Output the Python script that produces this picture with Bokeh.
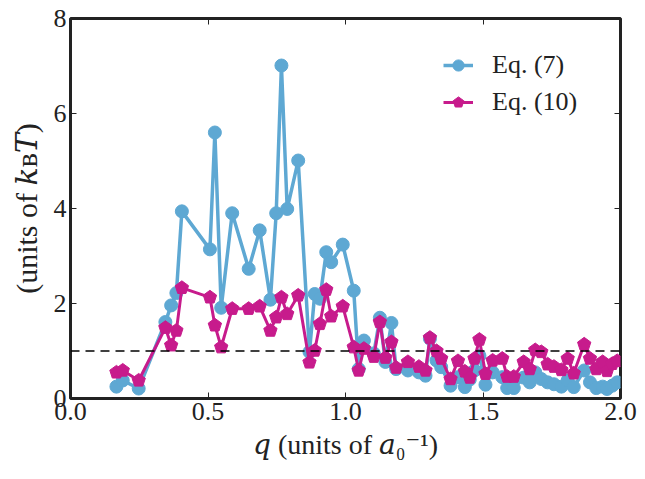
import numpy as np
from bokeh.plotting import figure
from bokeh.models import (Range1d, Span, LinearAxis, FixedTicker, Legend,
                          LegendItem, ColumnDataSource)
from bokeh.embed import file_html
from bokeh.resources import INLINE

# ---- data ----
q = [0.167, 0.19, 0.248, 0.345, 0.366, 0.385, 0.405, 0.507, 0.525, 0.548,
     0.588, 0.648, 0.688, 0.727, 0.748, 0.767, 0.788, 0.828, 0.869, 0.888,
     0.907, 0.93, 0.948, 0.99, 1.03, 1.048, 1.067, 1.103, 1.125, 1.145,
     1.167, 1.184, 1.227, 1.267, 1.291, 1.307, 1.331, 1.348, 1.382, 1.409,
     1.434, 1.452, 1.469, 1.487, 1.509, 1.535, 1.57, 1.588, 1.612, 1.648,
     1.67, 1.69, 1.712, 1.735, 1.758, 1.785, 1.808, 1.83, 1.868, 1.889,
     1.912, 1.935, 1.951, 1.97, 1.988]
eq7 = [0.25, 0.38, 0.21, 1.61, 1.96, 2.22, 3.94, 3.14, 5.6, 1.91,
       3.9, 2.73, 3.54, 2.08, 3.9, 7.01, 3.99, 5.01, 0.98, 2.2,
       2.1, 3.08, 2.87, 3.24, 2.27, 0.62, 1.22, 0.95, 1.7, 0.77,
       1.59, 0.62, 0.59, 0.55, 0.48, 1.26, 0.8, 0.66, 0.27, 0.45,
       0.24, 0.4, 0.59, 0.9, 0.29, 0.55, 0.45, 0.22, 0.22, 0.44,
       0.34, 0.55, 0.41, 0.34, 0.3, 0.25, 0.38, 0.24, 0.59, 0.34,
       0.22, 0.25, 0.2, 0.27, 0.34]
eq10 = [0.55, 0.59, 0.38, 1.49, 1.12, 1.43, 2.33, 2.13, 1.54, 1.08,
        1.89, 1.89, 1.94, 1.43, 1.71, 2.13, 1.78, 2.17, 0.76, 1.01,
        1.57, 2.29, 1.73, 1.94, 1.08, 0.59, 1.05, 0.88, 1.61, 0.86,
        1.19, 0.65, 0.77, 0.67, 0.59, 1.28, 1.0, 0.84, 0.41, 0.79,
        0.57, 0.44, 0.84, 1.24, 0.52, 0.8, 0.84, 0.46, 0.46, 0.77,
        0.62, 1.02, 0.98, 0.72, 0.67, 0.6, 0.84, 0.53, 1.14, 0.84,
        0.62, 0.77, 0.58, 0.73, 0.79]
series_labels = ["Eq. (7)", "Eq. (10)"]
x_ticks = [0.0, 0.5, 1.0, 1.5, 2.0]
x_tick_labels = ["0.0", "0.5", "1.0", "1.5", "2.0"]
y_ticks = [0, 2, 4, 6, 8]
reference_level = 1.0

BLUE = "#5ea8d3"
PINK = "#c71b8c"
SERIF = "'Liberation Serif', 'DejaVu Serif', serif"

src = ColumnDataSource(dict(q=q, eq7=eq7, eq10=eq10))

p = figure(width=637, height=471, output_backend="svg", toolbar_location=None,
           x_range=Range1d(0, 2), y_range=Range1d(0, 8),
           min_border_left=70, min_border_right=17, min_border_top=18,
           min_border_bottom=73)
p.xgrid.visible = False
p.ygrid.visible = False
p.outline_line_color = "#222222"
p.outline_line_width = 3
p.background_fill_color = "white"
p.border_fill_color = "white"

def style_axis(ax, show_labels):
    ax.axis_line_color = None
    ax.major_tick_in = 6
    ax.major_tick_out = 0
    ax.minor_tick_line_color = None
    ax.major_tick_line_color = "#222222"
    ax.major_tick_line_width = 1
    if show_labels:
        ax.major_label_text_font = SERIF
        ax.major_label_text_font_size = "26px"
        ax.major_label_text_color = "#222222"
        ax.axis_label_text_font = SERIF
        ax.axis_label_text_font_style = "normal"
        ax.axis_label_text_color = "#222222"
    else:
        ax.major_label_text_color = None
        ax.major_label_text_font_size = "1px"
        ax.major_label_standoff = 0

xax = p.xaxis[0]
xax.ticker = FixedTicker(ticks=x_ticks)
xax.major_label_overrides = {t: l for t, l in zip(x_ticks, x_tick_labels)}
xax.axis_label = "\U0001D45E (units of \U0001D44E\u2080\u207B\u00B9)"
xax.major_label_standoff = 4
xax.axis_label_standoff = 6
style_axis(xax, True)
xax.axis_label_text_font_size = "28px"

yax = p.yaxis[0]
yax.ticker = FixedTicker(ticks=y_ticks)
yax.axis_label = "(units of \U0001D458\u0299\U0001D447)"
yax.major_label_standoff = 4
yax.axis_label_standoff = 8
style_axis(yax, True)
yax.axis_label_text_font_size = "30px"

top_ax = LinearAxis(ticker=FixedTicker(ticks=x_ticks))
style_axis(top_ax, False)
p.add_layout(top_ax, "above")
right_ax = LinearAxis(ticker=FixedTicker(ticks=y_ticks))
style_axis(right_ax, False)
p.add_layout(right_ax, "right")

p.add_layout(Span(location=reference_level, dimension="width",
                  line_color="black", line_width=1.5, line_dash="9 6"))

l1 = p.line("q", "eq7", source=src, line_color=BLUE, line_width=3.5)
m1 = p.scatter("q", "eq7", source=src, marker="circle", size=13,
               fill_color=BLUE, line_color=BLUE)
l2 = p.line("q", "eq10", source=src, line_color=PINK, line_width=3)
try:
    m2 = p.ngon(x="q", y="eq10", source=src, radius=7, radius_units="screen",
                n=5, fill_color=PINK, line_color=PINK)
except Exception:
    m2 = p.scatter("q", "eq10", source=src, marker="hex", size=13,
                   fill_color=PINK, line_color=PINK)

legend = Legend(items=[LegendItem(label=series_labels[0], renderers=[l1, m1]),
                       LegendItem(label=series_labels[1], renderers=[l2, m2])],
                location=(373, 281), border_line_color=None,
                background_fill_alpha=0, label_text_font=SERIF,
                label_text_font_size="26px", label_text_color="#222222",
                glyph_width=30, glyph_height=28, label_height=28,
                label_standoff=19, spacing=7, margin=0, padding=6)
p.add_layout(legend)

open("out.html", "w").write(file_html(p, INLINE))
